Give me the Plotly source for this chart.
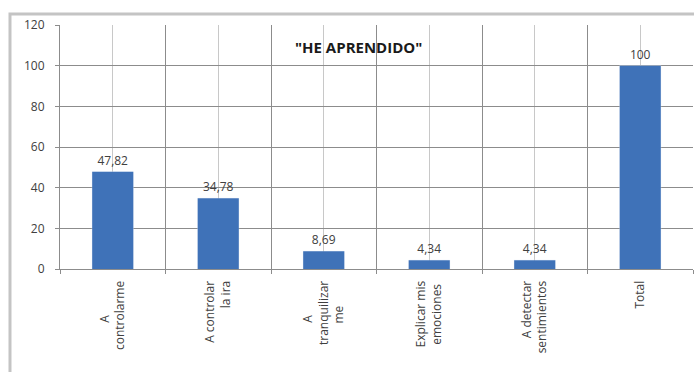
import plotly.graph_objects as go

NB = "\u00a0"
categories = ["A" + NB * 11 + "<br>controlarme", "A controlar<br>la ira",
              "A" + NB * 11 + "<br>tranquilizar<br>me" + NB * 8,
              "Explicar mis<br>emociones" + NB, "A detectar<br>sentimientos", "Total"]
values = [47.82, 34.78, 8.69, 4.34, 4.34, 100]
value_labels = ["47,82", "34,78", "8,69", "4,34", "4,34", "100"]
y_ticks = [0, 20, 40, 60, 80, 100, 120]
title_text = '"HE APRENDIDO"'

FONT = "Open Sans"
BAR = "#3F72B8"

fig = go.Figure()
# invisible helper trace on the main axis (light center grid)
fig.add_trace(go.Bar(x=categories, y=values, xaxis="x", yaxis="y",
                     marker_color="rgba(0,0,0,0)", hoverinfo="skip", showlegend=False))
# real bars on overlay axis (boundary grid + labels)
fig.add_trace(go.Bar(x=categories, y=values, xaxis="x2", yaxis="y",
                     marker_color=BAR, marker_line_width=0,
                     text=value_labels, textposition="outside", cliponaxis=False,
                     textfont=dict(family=FONT, size=12, color="#404040"),
                     showlegend=False))

fig.update_layout(
    width=694, height=372,
    margin=dict(l=60, r=1, t=25, b=103),
    paper_bgcolor="white", plot_bgcolor="white",
    bargap=0.61,
    font=dict(family=FONT, size=12, color="#404040"),
    xaxis=dict(type="category", categoryarray=categories, range=[-0.5, 5.5],
               showgrid=True, gridcolor="#C8C8C8", gridwidth=1,
               showticklabels=False, ticks="", showline=False, zeroline=False),
    xaxis2=dict(type="category", categoryarray=categories, range=[-0.5, 5.5],
                overlaying="x", side="bottom", anchor="y",
                tickson="boundaries", showgrid=True, gridcolor="#8C8C8C", gridwidth=1,
                ticks="outside", ticklen=4, tickcolor="#8C8C8C",
                showline=True, linecolor="#8C8C8C", linewidth=1,
                ticklabelstandoff=6,
                tickangle=-90, tickfont=dict(family=FONT, size=12, color="#404040")),
    yaxis=dict(range=[0, 120], tickvals=y_ticks, showgrid=True, gridcolor="#8C8C8C",
               gridwidth=1, ticks="outside", ticklen=4, tickcolor="#8C8C8C",
               showline=True, linecolor="#8C8C8C", linewidth=1, zeroline=False,
               ticklabelstandoff=8,
               tickfont=dict(family=FONT, size=12, color="#404040")),
    annotations=[dict(text="<b>" + title_text + "</b>", xref="paper", yref="paper",
                      x=0.471, y=0.96, showarrow=False,
                      font=dict(family=FONT, size=15, color="#1a1a1a"))],
    shapes=[dict(type="rect", xref="paper", yref="paper", x0=-0.079, x1=1.2,
                 y0=-1.0, y1=1.045, line=dict(color="#C4C4C4", width=3),
                 fillcolor="rgba(0,0,0,0)", layer="below")],
)

fig.write_html("out.html")
